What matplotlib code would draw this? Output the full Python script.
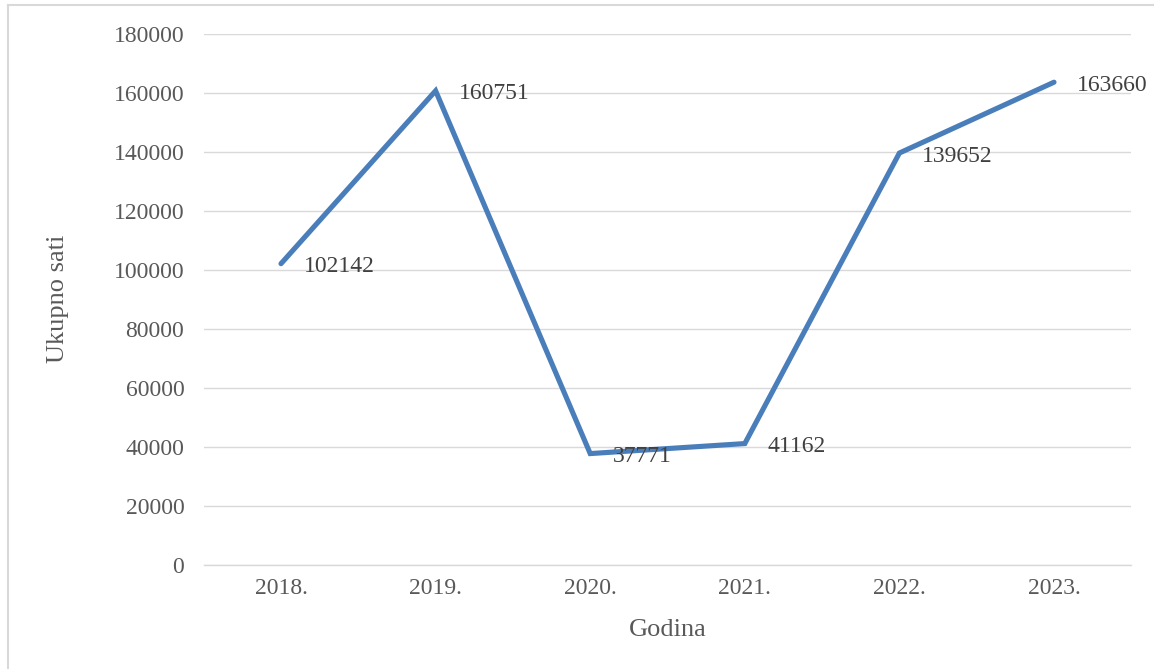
import matplotlib
matplotlib.use("Agg")
import matplotlib.pyplot as plt
from matplotlib.lines import Line2D

years = ["2018.", "2019.", "2020.", "2021.", "2022.", "2023."]
hours = [102142, 160751, 37771, 41162, 139652, 163660]
y_ticks = [0, 20000, 40000, 60000, 80000, 100000, 120000, 140000, 160000, 180000]

plt.rcParams['font.family'] = ['Liberation Serif', 'DejaVu Serif']

W, H = 1154, 669
fig = plt.figure(figsize=(W / 100, H / 100), dpi=100)
fig.patch.set_facecolor('white')

left, right, bottom, top = 203.7, 1131.3, 565, 34
ax = fig.add_axes([left / W, 1 - bottom / H, (right - left) / W, (bottom - top) / H])

x = list(range(len(years)))
ax.plot(x, hours, color='#4A7EBB', linewidth=3.7, solid_capstyle='round',
        solid_joinstyle='miter', zorder=3)

for xi, v in zip(x, hours):
    ax.annotate(str(v), (xi, v), xytext=(23, -3), textcoords='offset pixels',
                ha='left', va='center', fontsize=17, color='#404040', zorder=4)

ax.set_xlim(-0.5, len(years) - 0.5)
ax.set_ylim(0, 180000)
ax.set_yticks(y_ticks)
ax.set_yticklabels([str(t) for t in y_ticks])
ax.set_xticks(x)
ax.set_xticklabels(years)

ax.grid(axis='y', color='#D9D9D9', linewidth=1.0, zorder=0)
ax.set_axisbelow(True)
for s in ['top', 'right', 'left']:
    ax.spines[s].set_visible(False)
ax.spines['bottom'].set_color('#D9D9D9')
ax.spines['bottom'].set_linewidth(1.0)

ax.tick_params(axis='both', length=0, labelsize=17, colors='#595959')
ax.tick_params(axis='y', pad=14)
ax.tick_params(axis='x', pad=9)

fig.text(667.5 / W, 1 - 630 / H, "Godina", ha='center', va='center',
         fontsize=19, color='#595959')
fig.text(58 / W, 1 - 299 / H, "Ukupno sati", ha='center', va='center',
         rotation=90, fontsize=19, color='#595959')

# figure border (top and left visible)
fig.add_artist(Line2D([7.5 / W, 7.5 / W], [0, 1 - 5 / H], transform=fig.transFigure,
                      color='#D9D9D9', linewidth=1.5))
fig.add_artist(Line2D([7.5 / W, 1], [1 - 5 / H, 1 - 5 / H], transform=fig.transFigure,
                      color='#D9D9D9', linewidth=1.5))

fig.savefig("out.png", dpi=100, facecolor='white')
